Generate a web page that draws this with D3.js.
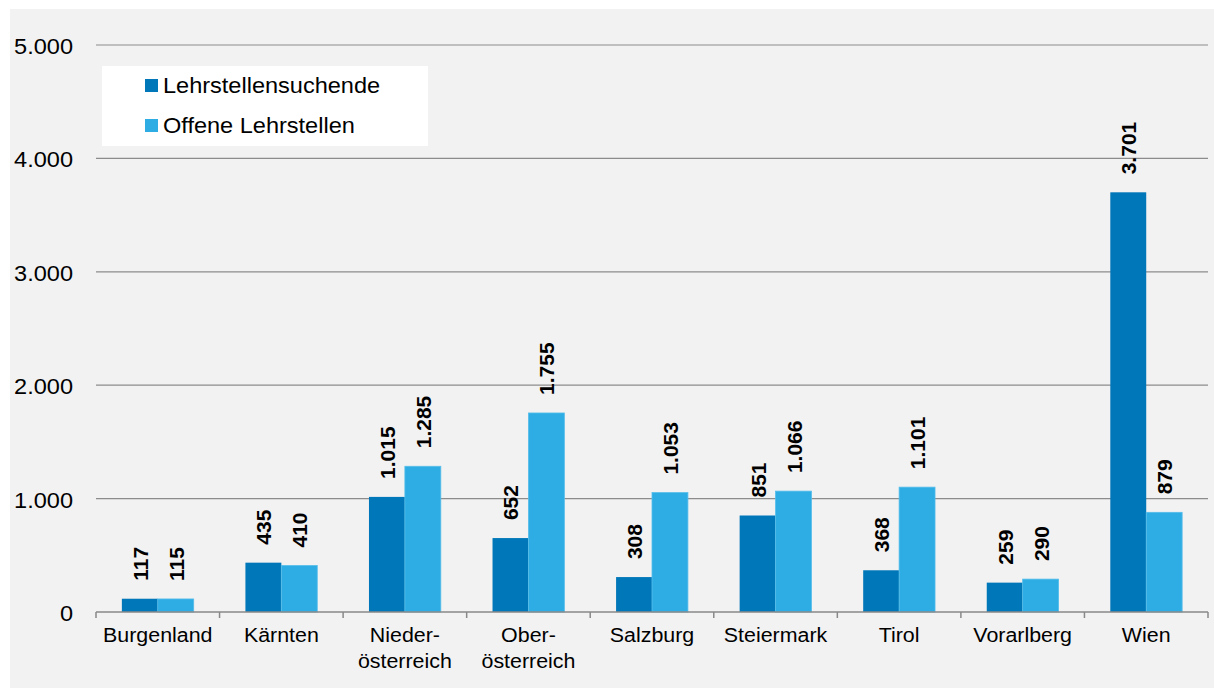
<!DOCTYPE html>
<html>
<head>
<meta charset="utf-8">
<script src="https://cdn.jsdelivr.net/npm/d3@7"></script>
<style>
  body { margin: 0; background: #fff; }
  text { font-family: Arial, "Liberation Sans", sans-serif; }
</style>
</head>
<body>
<svg width="1214" height="688"></svg>
<script>
var regions = [["Burgenland"], ["Kärnten"], ["Nieder-", "österreich"], ["Ober-", "österreich"],
    ["Salzburg"], ["Steiermark"], ["Tirol"], ["Vorarlberg"], ["Wien"]];
var suchende = [117, 435, 1015, 652, 308, 851, 368, 259, 3701];
var offene = [115, 410, 1285, 1755, 1053, 1066, 1101, 290, 879];
var seriesNames = ["Lehrstellensuchende", "Offene Lehrstellen"];
var seriesColors = ["#0077b8", "#2eade5"];
var yTicks = [0, 1000, 2000, 3000, 4000, 5000];

var svg = d3.select("svg");
var width = 1214, height = 688;
var margin = {left: 96, right: 6, top: 45, bottom: 76};
var stretch = 1.07; // horizontal text looks a little wide in the original

svg.append("rect")
    .attr("x", 10).attr("y", 9)
    .attr("width", width - 10).attr("height", height - 9)
    .attr("fill", "#f2f2f2");

var fmt = d3.formatLocale({decimal: ",", thousands: ".", grouping: [3], currency: ["", "€"]}).format(",d");

var x = d3.scaleBand()
    .domain(d3.range(regions.length))
    .range([margin.left, width - margin.right]);
var x1 = d3.scaleBand()
    .domain([0, 1])
    .range([0, x.bandwidth()])
    .paddingOuter(0.72)
    .paddingInner(0);
var y = d3.scaleLinear()
    .domain([0, 5000])
    .range([height - margin.bottom, margin.top]);

// gridlines
svg.append("g")
    .selectAll("line")
    .data(yTicks.slice(1))
    .enter().append("line")
    .attr("x1", margin.left).attr("x2", width - margin.right)
    .attr("y1", function (d) { return y(d); })
    .attr("y2", function (d) { return y(d); })
    .attr("stroke", "#8c8c8c")
    .attr("stroke-width", 1.2);

// y labels
svg.append("g")
    .selectAll("text")
    .data(yTicks)
    .enter().append("text")
    .attr("transform", function (d) { return "translate(73," + (y(d) + 9) + ") scale(" + stretch + ",1)"; })
    .attr("text-anchor", "end")
    .attr("font-size", 22)
    .attr("fill", "#000")
    .text(function (d) { return fmt(d); });

// bars
var data = regions.map(function (r, i) { return [suchende[i], offene[i]]; });
var groups = svg.append("g")
    .selectAll("g")
    .data(data)
    .enter().append("g")
    .attr("transform", function (d, i) { return "translate(" + x(i) + ",0)"; });

groups.selectAll("rect")
    .data(function (d) { return d; })
    .enter().append("rect")
    .attr("x", function (d, j) { return x1(j); })
    .attr("width", x1.bandwidth())
    .attr("y", function (d) { return y(d); })
    .attr("height", function (d) { return y(0) - y(d); })
    .attr("fill", function (d, j) { return seriesColors[j]; })
    .attr("stroke", function (d, j) { return j == 1 ? "#55bdea" : "none"; })
    .attr("stroke-width", 0.8);

groups.selectAll("text")
    .data(function (d) { return d; })
    .enter().append("text")
    .attr("transform", function (d, j) {
        return "translate(" + (x1(j) + x1.bandwidth() / 2 + 8) + "," + (y(d) - 18) + ") rotate(-90)";
    })
    .attr("font-size", 21)
    .attr("font-weight", "bold")
    .attr("fill", "#000")
    .text(function (d) { return fmt(d); });

// x axis
var axisY = y(0);
svg.append("line")
    .attr("x1", margin.left).attr("x2", width - margin.right)
    .attr("y1", axisY).attr("y2", axisY)
    .attr("stroke", "#898989").attr("stroke-width", 1.5);
svg.append("g")
    .selectAll("line")
    .data(d3.range(regions.length + 1))
    .enter().append("line")
    .attr("x1", function (d) { return margin.left + d * x.bandwidth(); })
    .attr("x2", function (d) { return margin.left + d * x.bandwidth(); })
    .attr("y1", axisY).attr("y2", axisY + 6)
    .attr("stroke", "#898989").attr("stroke-width", 1.5);

var xl = svg.append("g")
    .selectAll("text")
    .data(regions)
    .enter().append("text")
    .attr("transform", function (d, i) {
        return "translate(" + (x(i) + x.bandwidth() / 2) + ",642) scale(" + stretch + ",1)";
    })
    .attr("text-anchor", "middle")
    .attr("font-size", 20)
    .attr("fill", "#000");
xl.selectAll("tspan")
    .data(function (d) { return d; })
    .enter().append("tspan")
    .attr("x", 0)
    .attr("dy", function (d, k) { return k == 0 ? 0 : 26; })
    .text(function (d) { return d; });

// legend
var legend = svg.append("g");
legend.append("rect")
    .attr("x", 102).attr("y", 66)
    .attr("width", 326).attr("height", 80)
    .attr("fill", "#fff");
seriesNames.forEach(function (name, i) {
    legend.append("rect")
        .attr("x", 145).attr("y", 79 + i * 40)
        .attr("width", 13).attr("height", 13)
        .attr("fill", seriesColors[i]);
    legend.append("text")
        .attr("transform", "translate(163," + (93 + i * 40) + ") scale(" + stretch + ",1)")
        .attr("font-size", 22)
        .attr("fill", "#000")
        .text(name);
});
</script>
</body>
</html>
